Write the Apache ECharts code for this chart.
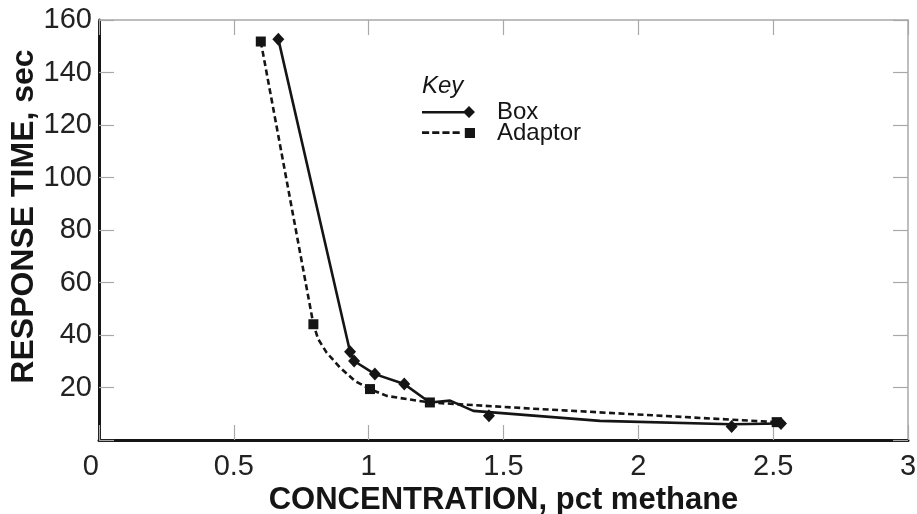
<!DOCTYPE html>
<html>
<head>
<meta charset="utf-8">
<script src="https://cdn.jsdelivr.net/npm/echarts@6/dist/echarts.min.js"></script>
<style>
html,body{margin:0;padding:0;background:#fff;}
#chart{width:917px;height:514px;}
</style>
</head>
<body>
<div id="chart"></div>
<script>
// ---- data ----
// Box: traced solid line and its measured diamond points
const boxLineX = [0.665, 0.931, 0.946, 1.023, 1.132, 1.227, 1.302, 1.388, 1.858, 2.346, 2.529];
const boxLineY = [152.7, 33.6, 30.1, 25.1, 21.3, 14.3, 15.0, 11.1, 7.3, 6.0, 6.3];
const boxPointX = [0.665, 0.931, 0.946, 1.023, 1.132, 1.446, 2.346, 2.529];
const boxPointY = [152.7, 33.6, 30.1, 25.1, 21.3, 9.2, 5.1, 6.3];
// Adaptor: traced dashed curve and its measured square points
const adaptorLineX = [0.600, 0.795, 0.813, 0.844, 0.894, 0.949, 1.005, 1.067, 1.141, 1.227, 1.598, 2.513];
const adaptorLineY = [151.8, 44.1, 38.4, 33.3, 27.6, 22.5, 19.4, 16.8, 15.6, 14.3, 12.0, 6.8];
const adaptorPointX = [0.600, 0.795, 1.005, 1.227, 2.513];
const adaptorPointY = [151.8, 44.1, 19.4, 14.3, 6.8];
const xTickStep = 0.5;
const yTickStep = 20;
const seriesNames = ['Box', 'Adaptor'];
const xTitle = 'CONCENTRATION, pct methane';
const yTitle = 'RESPONSE TIME, sec';
const keyTitle = 'Key';

const zip = (xs, ys) => xs.map((x, i) => [x, ys[i]]);

const ink = '#151515';
const tickGray = '#a8a8a8';
const labelFont = 'Liberation Sans, Arial, Helvetica, sans-serif';

const boxIcon = 'path://M0,5h44v2.4h-44z M41,6 L47,0 L53,6 L47,12 Z';
const adaptorIcon = 'path://M0,4.8h7v2.6h-7z M10,4.8h7v2.6h-7z M20,4.8h7v2.6h-7z M30,4.8h7v2.6h-7z M42,1.5h10v10h-10z';

const chart = echarts.init(document.getElementById('chart'), null, {renderer: 'canvas'});
chart.setOption({
  backgroundColor: '#ffffff',
  animation: false,
  title: {
    text: keyTitle,
    left: 417,
    top: 69,
    textStyle: {fontFamily: labelFont, fontStyle: 'italic', fontWeight: 'normal', fontSize: 24, color: ink}
  },
  legend: {
    orient: 'vertical',
    left: 417,
    top: 95,
    itemWidth: 53,
    itemHeight: 12,
    itemGap: -3,
    data: [
      {name: seriesNames[0], icon: boxIcon},
      {name: seriesNames[1], icon: adaptorIcon}
    ],
    textStyle: {fontFamily: labelFont, fontSize: 24, color: ink, padding: [0, 0, 0, 17]}
  },
  grid: {left: 99, right: 9, top: 20, bottom: 74, containLabel: false, outerBoundsMode: 'none'},
  xAxis: [
    {
      type: 'value', min: 0, max: 3, interval: xTickStep, position: 'bottom',
      name: xTitle, nameLocation: 'middle', nameGap: 45, nameMoveOverlap: false,
      nameTextStyle: {fontFamily: labelFont, fontWeight: 'bold', fontSize: 31, color: ink},
      axisLine: {show: true, onZero: false, lineStyle: {color: ink, width: 3}},
      axisTick: {show: true, inside: true, length: 15, lineStyle: {color: tickGray, width: 1.2}},
      axisLabel: {fontFamily: labelFont, fontSize: 29, color: '#222', margin: 12, alignMinLabel: 'right'},
      splitLine: {show: false}
    },
    {
      type: 'value', min: 0, max: 3, interval: xTickStep, position: 'top',
      axisLine: {show: true, onZero: false, lineStyle: {color: tickGray, width: 1.5}},
      axisTick: {show: true, inside: true, length: 15, lineStyle: {color: tickGray, width: 1.2}},
      axisLabel: {show: false},
      splitLine: {show: false}
    }
  ],
  yAxis: [
    {
      type: 'value', min: 0, max: 160, interval: yTickStep, position: 'left',
      name: yTitle, nameLocation: 'middle', nameGap: 59, nameRotate: 90, nameMoveOverlap: false,
      nameTextStyle: {fontFamily: labelFont, fontWeight: 'bold', fontSize: 32, color: ink, padding: [0, 0, 0, 27]},
      axisLine: {show: true, onZero: false, lineStyle: {color: ink, width: 3}},
      axisTick: {show: true, inside: true, length: 15, lineStyle: {color: tickGray, width: 1.2}},
      axisLabel: {fontFamily: labelFont, fontSize: 29, color: '#222', margin: 7,
        formatter: v => (v === 0 ? '' : String(v))},
      splitLine: {show: false}
    },
    {
      type: 'value', min: 0, max: 160, interval: yTickStep, position: 'right',
      axisLine: {show: true, onZero: false, lineStyle: {color: tickGray, width: 1.5}},
      axisTick: {show: true, inside: true, length: 15, lineStyle: {color: tickGray, width: 1.2}},
      axisLabel: {show: false},
      splitLine: {show: false}
    }
  ],
  series: [
    {
      name: seriesNames[1], type: 'line', xAxisIndex: 0, yAxisIndex: 0,
      data: zip(adaptorLineX, adaptorLineY),
      showSymbol: false, symbol: 'none',
      itemStyle: {color: ink},
      lineStyle: {color: ink, width: 2.6, type: [6, 3.5]},
      z: 2
    },
    {
      name: seriesNames[1] + ' points', type: 'scatter', xAxisIndex: 0, yAxisIndex: 0,
      data: zip(adaptorPointX, adaptorPointY),
      symbol: 'rect', symbolSize: 10,
      itemStyle: {color: ink, opacity: 1},
      z: 3
    },
    {
      name: seriesNames[0], type: 'line', xAxisIndex: 0, yAxisIndex: 0,
      data: zip(boxLineX, boxLineY),
      showSymbol: false, symbol: 'none',
      itemStyle: {color: ink},
      lineStyle: {color: ink, width: 2.6},
      z: 4
    },
    {
      name: seriesNames[0] + ' points', type: 'scatter', xAxisIndex: 0, yAxisIndex: 0,
      data: zip(boxPointX, boxPointY),
      symbol: 'diamond', symbolSize: [12, 13],
      itemStyle: {color: ink, opacity: 1},
      z: 5
    }
  ]
});
</script>
</body>
</html>
